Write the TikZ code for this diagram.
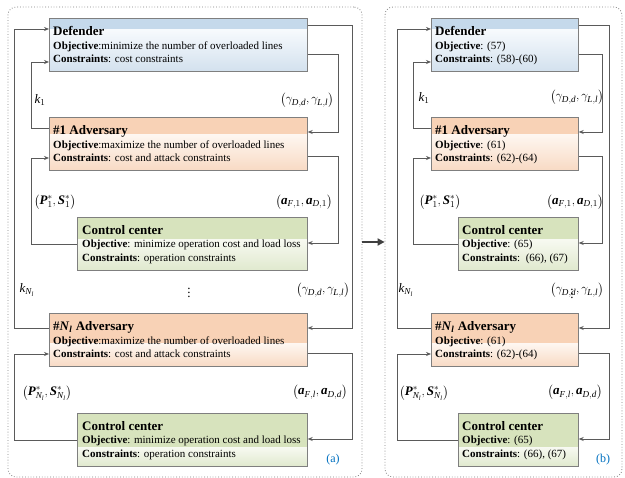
\documentclass[tikz,border=0pt]{standalone}
\usepackage{amsmath}
\usepackage{fontspec}
\setmainfont{Liberation Serif}
\usetikzlibrary{arrows.meta}
\definecolor{boxgray}{HTML}{7F7F7F}
\definecolor{linegray}{HTML}{5A5A5A}
\definecolor{bandB}{HTML}{C5D9EB}
\definecolor{topB}{HTML}{F7FAFD}
\definecolor{botB}{HTML}{D3E1EE}
\definecolor{bandO}{HTML}{F8D2B6}
\definecolor{topO}{HTML}{FEF7F1}
\definecolor{botO}{HTML}{F8DAC4}
\definecolor{bandG}{HTML}{D7E3BD}
\definecolor{topG}{HTML}{F7F9F1}
\definecolor{botG}{HTML}{E0E9CE}
\definecolor{capblue}{HTML}{0070C0}
\newcommand\boxfill[4]{%
  \fill[#1] (path picture bounding box.north west) rectangle ([yshift=-#4]path picture bounding box.north east);
  \shade[top color=#2,bottom color=#3] ([yshift=-#4]path picture bounding box.north west) rectangle (path picture bounding box.south east);}
\newcommand\bit[1]{\text{\bfseries\itshape #1}}
\newcommand\itx[1]{\mathit{#1}}
\newcommand\pair[2]{\bigl(#1,#2\bigr)}
\tikzset{
  box/.style={draw=boxgray, line width=0.7pt, inner sep=0pt, anchor=north west, minimum height=53pt},
  bluebox/.style={box, path picture={\boxfill{bandB}{topB}{botB}{#1}}},
  orangebox/.style={box, path picture={\boxfill{bandO}{topO}{botO}{#1}}},
  greenbox/.style={box, path picture={\boxfill{bandG}{topG}{botG}{#1}}},
  ttl/.style={anchor=base west, inner sep=0pt, font=\fontsize{13}{15}\selectfont\bfseries},
  txt/.style={anchor=base west, inner sep=0pt, font=\fontsize{11}{13}\selectfont},
  lbl/.style={inner sep=0pt, font=\fontsize{13}{15}\selectfont},
  conn/.style={draw=linegray, line width=0.7pt, -{Stealth[length=5pt,width=4pt]}},
  panel/.style={draw=gray, dotted, line width=0.8pt, rounded corners=8pt, minimum height=470pt, inner sep=0pt},
  bigarrow/.style={draw=black!75, line width=2pt, -{Triangle[length=7pt,width=7pt]}},
  subcap/.style={inner sep=0pt, font=\fontsize{12}{14}\selectfont, text=capblue}
}
\begin{document}
\begin{tikzpicture}[x=1pt,y=-1pt]
\useasboundingbox (0,0) rectangle (625,478);
% panels
\node[panel, minimum width=354pt] (pa) at (185,242) {};
\node[panel, minimum width=237pt] (pb) at (503.5,242) {};
\draw[bigarrow] (pa.east) -- (pb.west);

% ===== left panel =====
\node[bluebox=11pt, minimum width=258pt] (def) at (49,18) {};
\node[orangebox=17pt, minimum width=258pt] (adv1) at (49,117) {};
\node[greenbox=22pt, minimum width=230pt] (cc1) at (77,217) {};
\node[orangebox=30pt, minimum width=258pt] (advN) at (49,313) {};
\node[greenbox=34pt, minimum width=230pt] (cc2) at (77,413) {};

\node[ttl] (defT) at (53,35.5) {Defender};
\node[txt] (defO) at (53,49.5) {\textbf{Objective}:minimize the number of overloaded lines};
\node[txt] (defC) at (53,63) {\textbf{Constraints}: cost constraints};

\node[ttl] (adv1T) at (53,134.5) {\#1 Adversary};
\node[txt] (adv1O) at (53,148.5) {\textbf{Objective}:maximize the number of overloaded lines};
\node[txt] (adv1C) at (53,162) {\textbf{Constraints}: cost and attack constraints};

\node[ttl] (cc1T) at (82,234.5) {Control center};
\node[txt] (cc1O) at (82,248) {\textbf{Objective}: minimize operation cost and load loss};
\node[txt] (cc1C) at (82,261.5) {\textbf{Constraints}: operation constraints};

\node[ttl] (advNT) at (53,330.5) {\#\textit{N}\textsubscript{\textit{l}} Adversary};
\node[txt] (advNO) at (53,344.5) {\textbf{Objective}:maximize the number of overloaded lines};
\node[txt] (advNC) at (53,358) {\textbf{Constraints}: cost and attack constraints};

\node[ttl] (cc2T) at (82,430.5) {Control center};
\node[txt] (cc2O) at (82,444) {\textbf{Objective}: minimize operation cost and load loss};
\node[txt] (cc2C) at (82,457.5) {\textbf{Constraints}: operation constraints};

% connectors left
\draw[conn] ([yshift=-15pt]advN.north west) -- ++(-35pt,0) |- ([yshift=-11pt]def.north west);
\draw[conn] ([yshift=-11pt]adv1.north west) -- ++(-18pt,0) |- ([yshift=-44pt]def.north west);
\draw[conn] ([yshift=-27pt]cc1.north west) -- ++(-46pt,0) |- ([yshift=-41pt]adv1.north west);
\draw[conn] ([yshift=-27pt]cc2.north west) -- ++(-63pt,0) |- ([yshift=-41pt]advN.north west);
\draw[conn] ([yshift=-7pt]def.north east) -- ++(45pt,0) |- ([yshift=-15pt]advN.north east);
\draw[conn] ([yshift=-36pt]def.north east) -- ++(31pt,0) |- ([yshift=-15pt]adv1.north east);
\draw[conn] ([yshift=-39pt]adv1.north east) -- ++(31pt,0) |- ([yshift=-26pt]cc1.north east);
\draw[conn] ([yshift=-40pt]advN.north east) -- ++(45pt,0) |- ([yshift=-26pt]cc2.north east);

% labels left
\node[lbl] (k1a) at (40,100) {$\itx{k}_1$};
\node[lbl] (g1a) at (307,100) {$\pair{\gamma_{\itx{D,d}}}{\gamma_{\itx{L,l}}}$};
\node[lbl] (p1a) at (55,202) {$\pair{\bit{P}_1^*}{\bit{S}_1^*}$};
\node[lbl] (a1a) at (304,202) {$\pair{\bit{a}_{\itx{F},1}}{\bit{a}_{\itx{D},1}}$};
\node[lbl] (kNa) at (27,290) {$\itx{k}_{\itx{N}_{\itx{l}}}$};
\node[lbl] (vda) at (189,290) {$\vdots$};
\node[lbl] (gNa) at (323,290) {$\pair{\gamma_{\itx{D,d}}}{\gamma_{\itx{L,l}}}$};
\node[lbl] (pNa) at (47,393) {$\pair{\bit{P}_{\itx{N}_{\itx{l}}}^*}{\bit{S}_{\itx{N}_{\itx{l}}}^*}$};
\node[lbl] (aNa) at (320,392) {$\pair{\bit{a}_{\itx{F,l}}}{\bit{a}_{\itx{D,d}}}$};
\node[subcap] (capa) at (333,460) {(a)};

% ===== right panel =====
\node[bluebox=11pt, minimum width=147pt] (bdef) at (431,18) {};
\node[orangebox=17pt, minimum width=147pt] (badv1) at (431,117) {};
\node[greenbox=22pt, minimum width=120pt] (bcc1) at (458,217) {};
\node[orangebox=30pt, minimum width=147pt] (badvN) at (431,313) {};
\node[greenbox=34pt, minimum width=120pt] (bcc2) at (458,413) {};

\node[ttl] (bdefT) at (435,35.5) {Defender};
\node[txt] (bdefO) at (435,49.5) {\textbf{Objective}: (57)};
\node[txt] (bdefC) at (435,63) {\textbf{Constraints}: (58)-(60)};

\node[ttl] (badv1T) at (435,134.5) {\#1 Adversary};
\node[txt] (badv1O) at (435,148.5) {\textbf{Objective}: (61)};
\node[txt] (badv1C) at (435,162) {\textbf{Constraints}: (62)-(64)};

\node[ttl] (bcc1T) at (462,234.5) {Control center};
\node[txt] (bcc1O) at (462,248) {\textbf{Objective}: (65)};
\node[txt] (bcc1C) at (462,261.5) {\textbf{Constraints}:\ \ (66), (67)};

\node[ttl] (badvNT) at (435,330.5) {\#\textit{N}\textsubscript{\textit{l}} Adversary};
\node[txt] (badvNO) at (435,344.5) {\textbf{Objective}: (61)};
\node[txt] (badvNC) at (435,358) {\textbf{Constraints}: (62)-(64)};

\node[ttl] (bcc2T) at (462,430.5) {Control center};
\node[txt] (bcc2O) at (462,444) {\textbf{Objective}: (65)};
\node[txt] (bcc2C) at (462,457.5) {\textbf{Constraints}: (66), (67)};

% connectors right
\draw[conn] ([yshift=-15pt]badvN.north west) -- ++(-34pt,0) |- ([yshift=-11pt]bdef.north west);
\draw[conn] ([yshift=-11pt]badv1.north west) -- ++(-18pt,0) |- ([yshift=-44pt]bdef.north west);
\draw[conn] ([yshift=-27pt]bcc1.north west) -- ++(-45pt,0) |- ([yshift=-41pt]badv1.north west);
\draw[conn] ([yshift=-27pt]bcc2.north west) -- ++(-61pt,0) |- ([yshift=-41pt]badvN.north west);
\draw[conn] ([yshift=-7pt]bdef.north east) -- ++(31pt,0) |- ([yshift=-15pt]badvN.north east);
\draw[conn] ([yshift=-36pt]bdef.north east) -- ++(24pt,0) |- ([yshift=-15pt]badv1.north east);
\draw[conn] ([yshift=-39pt]badv1.north east) -- ++(24pt,0) |- ([yshift=-26pt]bcc1.north east);
\draw[conn] ([yshift=-40pt]badvN.north east) -- ++(31pt,0) |- ([yshift=-26pt]bcc2.north east);

% labels right
\node[lbl] (k1b) at (424,98) {$\itx{k}_1$};
\node[lbl] (g1b) at (577,97) {$\pair{\gamma_{\itx{D,d}}}{\gamma_{\itx{L,l}}}$};
\node[lbl] (p1b) at (440,202) {$\pair{\bit{P}_1^*}{\bit{S}_1^*}$};
\node[lbl] (a1b) at (575,202) {$\pair{\bit{a}_{\itx{F},1}}{\bit{a}_{\itx{D},1}}$};
\node[lbl] (kNb) at (406,290) {$\itx{k}_{\itx{N}_{\itx{l}}}$};
\node[lbl] (gNb) at (577,290) {$\pair{\gamma_{\itx{D,d}}}{\gamma_{\itx{L,l}}}$};
\node[lbl] (vdb) at (572,291) {$\vdots$};
\node[lbl] (pNb) at (424,393) {$\pair{\bit{P}_{\itx{N}_{\itx{l}}}^*}{\bit{S}_{\itx{N}_{\itx{l}}}^*}$};
\node[lbl] (aNb) at (575,392) {$\pair{\bit{a}_{\itx{F,l}}}{\bit{a}_{\itx{D,d}}}$};
\node[subcap] (capb) at (603,460) {(b)};
\end{tikzpicture}
\end{document}
